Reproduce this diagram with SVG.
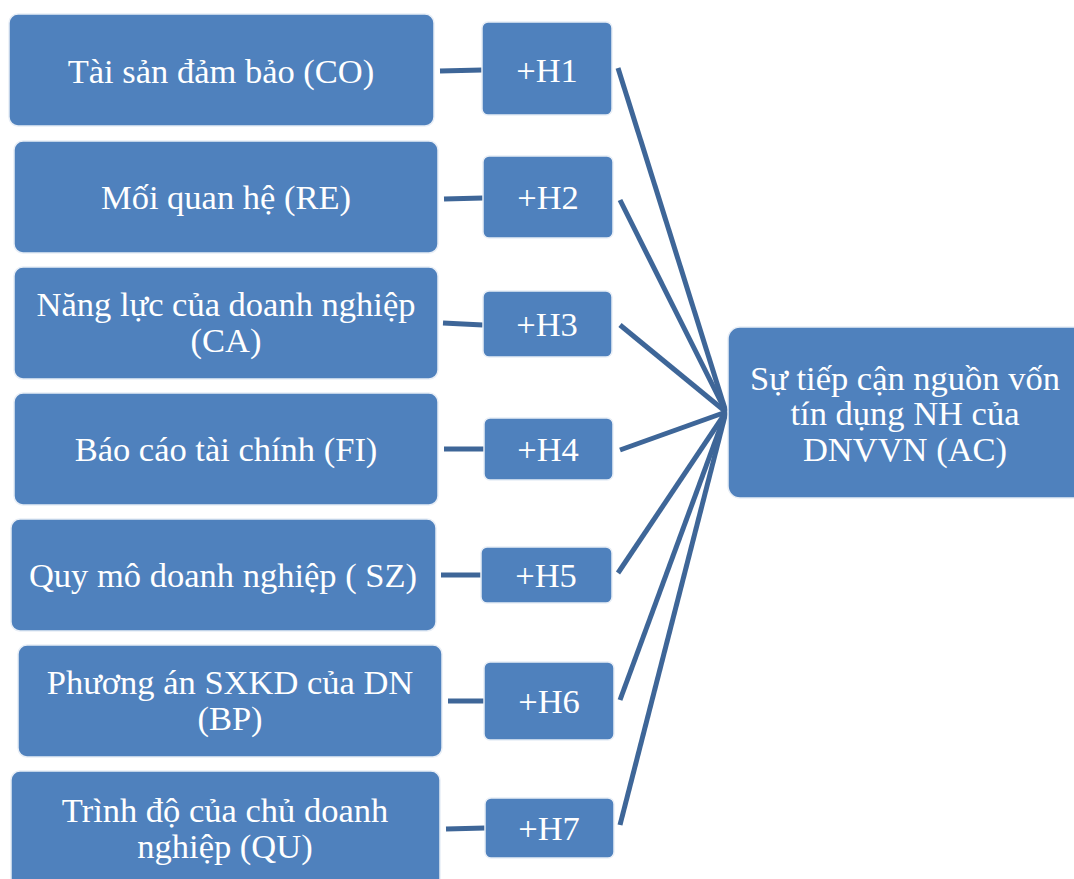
<svg xmlns="http://www.w3.org/2000/svg" width="1074" height="879" viewBox="0 0 1074 879">
  <style>
    .box { fill: #4F81BD; stroke: #E8EEF6; stroke-width: 1.5; }
    .lbl { fill: #FFFFFF; font-family: "Liberation Serif", "Times New Roman", serif; font-size: 34.5px; text-anchor: middle; }
    .link { stroke: #3E6698; stroke-width: 5; fill: none; stroke-linecap: butt; }
  </style>
  <rect width="1074" height="879" fill="#FFFFFF"/>

  <!-- connectors -->
  <g id="connectors">
    <line class="link" x1="440" y1="71" x2="482" y2="70"/>
    <line class="link" x1="444" y1="199" x2="483" y2="198"/>
    <line class="link" x1="443" y1="323" x2="483" y2="325"/>
    <line class="link" x1="444" y1="449" x2="484" y2="449"/>
    <line class="link" x1="441" y1="575" x2="481" y2="575"/>
    <line class="link" x1="448" y1="701" x2="484" y2="701"/>
    <line class="link" x1="446" y1="829" x2="485" y2="828"/>

    <line class="link" x1="618" y1="68" x2="726" y2="412"/>
    <line class="link" x1="620" y1="200" x2="726" y2="412"/>
    <line class="link" x1="620" y1="325" x2="726" y2="412"/>
    <line class="link" x1="620" y1="450" x2="726" y2="412"/>
    <line class="link" x1="618" y1="573" x2="726" y2="412"/>
    <line class="link" x1="620" y1="700" x2="726" y2="412"/>
    <line class="link" x1="620" y1="825" x2="726" y2="412"/>
  </g>

  <!-- factor nodes -->
  <g id="node-co">
    <rect class="box" x="9" y="14" width="425" height="112" rx="9"/>
    <text class="lbl" x="221" y="83">Tài sản đảm bảo (CO)</text>
  </g>
  <g id="node-re">
    <rect class="box" x="14" y="141" width="424" height="112" rx="9"/>
    <text class="lbl" x="226" y="209">Mối quan hệ (RE)</text>
  </g>
  <g id="node-ca">
    <rect class="box" x="14" y="267" width="424" height="112" rx="9"/>
    <text class="lbl" x="226" y="316">Năng lực của doanh nghiệp</text>
    <text class="lbl" x="226" y="352">(CA)</text>
  </g>
  <g id="node-fi">
    <rect class="box" x="14" y="393" width="424" height="112" rx="9"/>
    <text class="lbl" x="226" y="461">Báo cáo tài chính (FI)</text>
  </g>
  <g id="node-sz">
    <rect class="box" x="11" y="519" width="425" height="112" rx="9"/>
    <text class="lbl" x="223" y="587">Quy mô doanh nghiệp ( SZ)</text>
  </g>
  <g id="node-bp">
    <rect class="box" x="18" y="645" width="424" height="112" rx="9"/>
    <text class="lbl" x="230" y="694">Phương án SXKD của DN</text>
    <text class="lbl" x="230" y="730">(BP)</text>
  </g>
  <g id="node-qu">
    <rect class="box" x="11" y="771" width="429" height="120" rx="9"/>
    <text class="lbl" x="225" y="822">Trình độ của chủ doanh</text>
    <text class="lbl" x="225" y="858">nghiệp (QU)</text>
  </g>

  <!-- hypothesis nodes -->
  <g id="node-h1">
    <rect class="box" x="482" y="22" width="130" height="93" rx="6"/>
    <text class="lbl" x="547" y="82">+H1</text>
  </g>
  <g id="node-h2">
    <rect class="box" x="483" y="156" width="130" height="82" rx="6"/>
    <text class="lbl" x="548" y="209">+H2</text>
  </g>
  <g id="node-h3">
    <rect class="box" x="483" y="291" width="129" height="66" rx="6"/>
    <text class="lbl" x="547" y="336">+H3</text>
  </g>
  <g id="node-h4">
    <rect class="box" x="484" y="418" width="129" height="62" rx="6"/>
    <text class="lbl" x="548" y="461">+H4</text>
  </g>
  <g id="node-h5">
    <rect class="box" x="481" y="547" width="131" height="56" rx="6"/>
    <text class="lbl" x="546" y="587">+H5</text>
  </g>
  <g id="node-h6">
    <rect class="box" x="484" y="662" width="130" height="78" rx="6"/>
    <text class="lbl" x="549" y="713">+H6</text>
  </g>
  <g id="node-h7">
    <rect class="box" x="485" y="798" width="129" height="60" rx="6"/>
    <text class="lbl" x="549" y="840">+H7</text>
  </g>

  <!-- outcome node -->
  <g id="node-ac">
    <rect class="box" x="728" y="327" width="360" height="171" rx="12"/>
    <text class="lbl" x="905" y="390">Sự tiếp cận nguồn vốn</text>
    <text class="lbl" x="905" y="425">tín dụng NH của</text>
    <text class="lbl" x="905" y="461">DNVVN (AC)</text>
  </g>
</svg>
